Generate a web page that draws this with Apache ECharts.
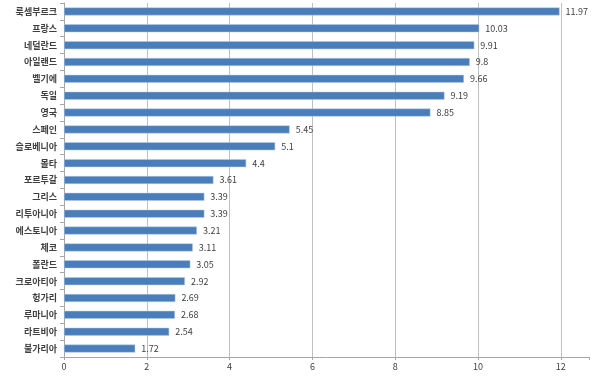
<!DOCTYPE html>
<html>
<head>
<meta charset="utf-8">
<script src="https://cdn.jsdelivr.net/npm/echarts@6/dist/echarts.min.js"></script>
<style>
  html, body { margin: 0; padding: 0; background: #fff; }
  #main { width: 592px; height: 376px; }
</style>
</head>
<body>
<div id="main"></div>
<script>
// 국가별 값 (위에서 아래 순서)
const countries = [
  "룩셈부르크", "프랑스", "네덜란드", "아일랜드", "벨기에", "독일", "영국",
  "스페인", "슬로베니아", "몰타", "포르투갈", "그리스", "리투아니아",
  "에스토니아", "체코", "폴란드", "크로아티아", "헝가리", "루마니아",
  "라트비아", "불가리아"
];
const values = [
  11.97, 10.03, 9.91, 9.8, 9.66, 9.19, 8.85,
  5.45, 5.1, 4.4, 3.61, 3.39, 3.39,
  3.21, 3.11, 3.05, 2.92, 2.69, 2.68,
  2.54, 1.72
];
const xTicks = [0, 2, 4, 6, 8, 10, 12];

let myChart = echarts.init(document.getElementById("main"));
const font = "'Noto Sans CJK KR', sans-serif";

let option = {
  animation: false,
  grid: { left: 64, right: 0, top: 3, bottom: 19 },
  xAxis: {
    type: "value",
    min: 0,
    max: 12.68,
    interval: 2,
    axisLine: { show: true, lineStyle: { color: "#a6a6a6" } },
    axisTick: { show: true, length: 3, lineStyle: { color: "#a6a6a6" } },
    axisLabel: {
      color: "#404040",
      fontFamily: font,
      fontSize: 9,
      margin: 5,
      formatter: function (v) {
        return xTicks.indexOf(v) >= 0 ? String(v) : "";
      }
    },
    splitLine: { show: true, showMaxLine: false, lineStyle: { color: "#c0c0c0" } }
  },
  yAxis: {
    type: "category",
    inverse: true,
    data: countries,
    axisLine: { show: true, lineStyle: { color: "#a6a6a6" } },
    axisTick: { show: true, length: 4, lineStyle: { color: "#a6a6a6" } },
    axisLabel: {
      color: "#404040",
      fontFamily: font,
      fontSize: 9,
      fontWeight: "bold",
      margin: 7
    }
  },
  series: [
    {
      type: "bar",
      data: values,
      barWidth: 8,
      itemStyle: { color: "#4a7ebb", borderColor: "#b9cde5", borderWidth: 0.5 },
      label: {
        show: true,
        position: "right",
        distance: 6,
        color: "#404040",
        fontFamily: font,
        fontSize: 9
      }
    }
  ]
};
option && myChart.setOption(option);
</script>
</body>
</html>
